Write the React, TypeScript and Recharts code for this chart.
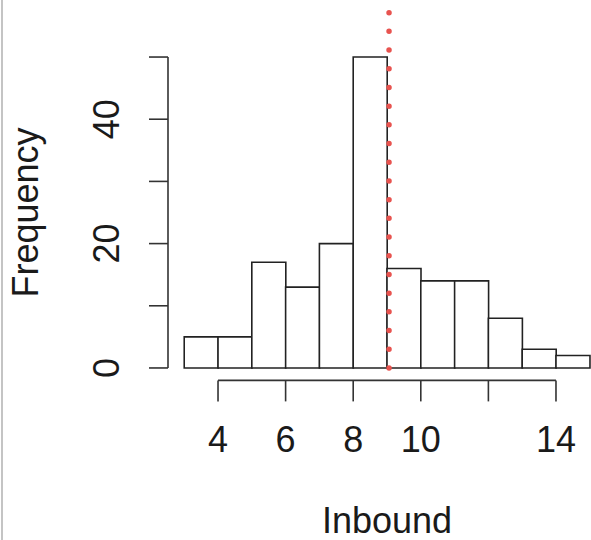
import React from 'react';
import { ComposedChart, Bar, XAxis, YAxis, ReferenceLine, Label } from 'recharts';

const binStarts = [3, 4, 5, 6, 7, 8, 9, 10, 11, 12, 13, 14];
const counts = [5, 5, 17, 13, 20, 50, 16, 14, 14, 8, 3, 2];
const binWidth = 1;
const xTicks = [4, 6, 8, 10, 12, 14];
const xTickLabels = ['4', '6', '8', '10', '', '14'];
const yTicks = [0, 10, 20, 30, 40, 50];
const yTickLabels = ['0', '', '20', '', '40', ''];
const markerValue = 9.06;
const markerTop = 57.2;

const data = binStarts.map((s, i) => ({ mid: s + binWidth / 2, count: counts[i] }));

const FONT = '"Liberation Sans", Arial, sans-serif';
const INK = '#1a1a1a';

const XTick = (props: any) => {
  const { x, y, payload } = props;
  const idx = xTicks.indexOf(payload.value);
  const txt = idx >= 0 ? xTickLabels[idx] : String(payload.value);
  return (
    <text x={x} y={y} textAnchor="middle" fontFamily={FONT} fontSize={36} fill={INK}>
      {txt}
    </text>
  );
};

const YTick = (props: any) => {
  const { x, y, payload } = props;
  const idx = yTicks.indexOf(payload.value);
  const txt = idx >= 0 ? yTickLabels[idx] : String(payload.value);
  return (
    <text
      x={x}
      y={y}
      transform={`rotate(-90, ${x}, ${y})`}
      textAnchor="middle"
      fontFamily={FONT}
      fontSize={36}
      fill={INK}
    >
      {txt}
    </text>
  );
};

export default function App() {
  return (
    <div style={{ position: 'absolute', left: 0, top: 0, width: 591, height: 540, overflow: 'hidden', background: '#fff' }}>
      <div style={{ position: 'absolute', left: 1, top: 0, width: 2, height: 540, background: '#c4c4c4' }} />
      <ComposedChart
        width={620}
        height={540}
        data={data}
        margin={{ top: 44.6, right: 14, bottom: 158.6, left: 167 }}
        barCategoryGap={0}
        barGap={0}
      >
        <XAxis
          dataKey="mid"
          type="number"
          domain={[2.52, 15.48]}
          ticks={xTicks}
          interval={0}
          height={1}
          axisLine={false}
          tickLine={{ stroke: '#333', strokeWidth: 1.6 }}
          tickSize={21}
          tickMargin={51}
          tick={<XTick />}
          allowDataOverflow
        >
          <Label
            content={(p: any) => {
              const vb = p.viewBox || {};
              return (
                <text
                  x={vb.x + vb.width / 2}
                  y={vb.y + 152.6}
                  textAnchor="middle"
                  fontFamily={FONT}
                  fontSize={36}
                  fill={INK}
                >
                  Inbound
                </text>
              );
            }}
          />
        </XAxis>
        <YAxis
          type="number"
          domain={[-2, 52]}
          ticks={yTicks}
          interval={0}
          width={1}
          axisLine={false}
          tickLine={{ stroke: '#333', strokeWidth: 1.6 }}
          tickSize={19}
          tickMargin={30}
          tick={<YTick />}
          allowDataOverflow
        >
          <Label
            content={(p: any) => {
              const vb = p.viewBox || {};
              const cx = 38;
              const cy = vb.y + vb.height / 2;
              return (
                <text
                  x={cx}
                  y={cy}
                  transform={`rotate(-90, ${cx}, ${cy})`}
                  textAnchor="middle"
                  fontFamily={FONT}
                  fontSize={36}
                  fill={INK}
                >
                  Frequency
                </text>
              );
            }}
          />
        </YAxis>
        <Bar dataKey="count" fill="#fff" stroke="#222" strokeWidth={1.6} isAnimationActive={false} />
        <ReferenceLine
          segment={[{ x: xTicks[0], y: -2 }, { x: xTicks[xTicks.length - 1], y: -2 }]}
          stroke="#333"
          strokeWidth={1.6}
          ifOverflow="visible"
        />
        <ReferenceLine
          segment={[{ x: 2.52, y: yTicks[0] }, { x: 2.52, y: yTicks[yTicks.length - 1] }]}
          stroke="#333"
          strokeWidth={1.6}
          ifOverflow="visible"
        />
        <ReferenceLine
          segment={[{ x: markerValue, y: 0 }, { x: markerValue, y: markerTop }]}
          stroke="#e8534f"
          strokeWidth={5.5}
          strokeDasharray="0 18.7"
          strokeLinecap="round"
          ifOverflow="visible"
        />
      </ComposedChart>
    </div>
  );
}
